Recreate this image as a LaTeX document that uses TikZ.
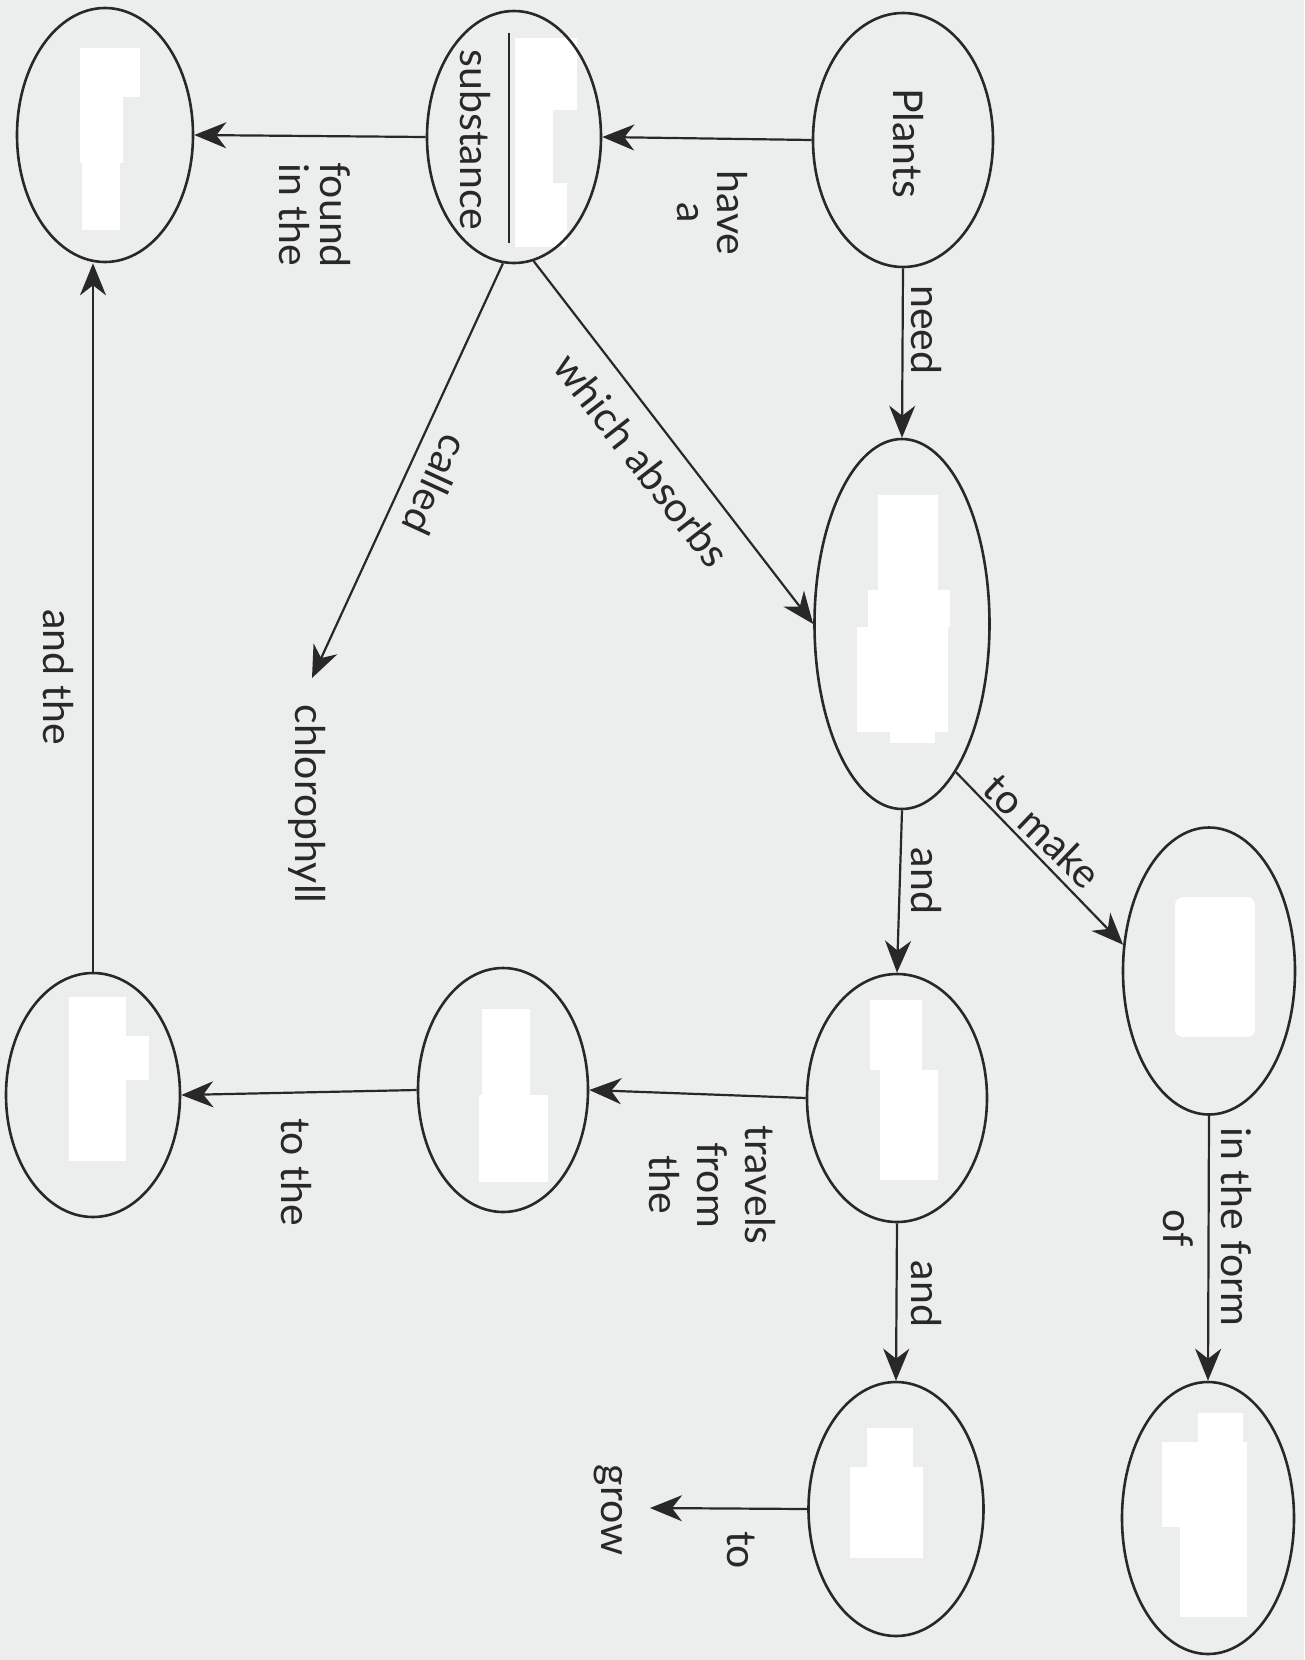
\documentclass[tikz,border=0pt]{standalone}
\usepackage{fontspec}
\setmainfont{Lato}
\usetikzlibrary{shapes.geometric,arrows.meta}
\definecolor{paper}{RGB}{235,238,236}
\definecolor{ink}{RGB}{40,40,40}
\begin{document}
\begin{tikzpicture}[x=1pt,y=-1pt,
  bubble/.style={ellipse, draw=ink, line width=2.6pt, inner sep=0pt},
  link/.style={draw=ink, line width=2.2pt, -{Stealth[length=32pt,width=26pt,inset=10pt]}},
  lbl/.style={font=\fontsize{41}{41}\selectfont, text=ink, inner sep=0pt, align=center}]
\fill[paper] (0,0) rectangle (1304,1660);
\useasboundingbox (0,0) rectangle (1304,1660);

% white patches
\fill[white] (80,48) rectangle (140,97);
\fill[white] (80,97) rectangle (123,163);
\fill[white] (82,163) rectangle (120,230);
\fill[white] (515,38) rectangle (577,110);
\fill[white] (515,110) rectangle (553,183);
\fill[white] (515,183) rectangle (567,247);
\fill[white] (878,495) rectangle (938,600);
\fill[white] (868,590) rectangle (950,627);
\fill[white] (857,627) rectangle (948,732);
\fill[white] (890,728) rectangle (935,743);
\fill[white, rounded corners=8pt] (1175,897) rectangle (1255,1037);
\fill[white] (870,1000) rectangle (922,1070);
\fill[white] (880,1070) rectangle (938,1180);
\fill[white] (482,1009) rectangle (530,1095);
\fill[white] (479,1095) rectangle (548,1182);
\fill[white] (69,997) rectangle (126,1161);
\fill[white] (69,1036) rectangle (149,1080);
\fill[white] (867,1428) rectangle (913,1467);
\fill[white] (850,1467) rectangle (923,1558);
\fill[white] (1198,1413) rectangle (1243,1442);
\fill[white] (1162,1442) rectangle (1247,1527);
\fill[white] (1180,1527) rectangle (1247,1617);

% ellipses
\node[bubble, minimum width=180pt, minimum height=254pt] (plants) at (903,140) {};
\node[bubble, minimum width=174pt, minimum height=252pt] (sub) at (514,137) {};
\node[bubble, minimum width=176pt, minimum height=254pt] (tl) at (105,135) {};
\node[bubble, minimum width=175pt, minimum height=370pt] (mid) at (902,624) {};
\node[bubble, minimum width=172pt, minimum height=287pt] (tomake) at (1209,971) {};
\node[bubble, minimum width=180pt, minimum height=248pt] (and1) at (897,1098) {};
\node[bubble, minimum width=170pt, minimum height=244pt] (travels) at (503,1090) {};
\node[bubble, minimum width=174pt, minimum height=244pt] (bl) at (93,1095) {};
\node[bubble, minimum width=175pt, minimum height=254pt] (and2) at (896,1509) {};
\node[bubble, minimum width=172pt, minimum height=272pt] (br) at (1208,1518) {};

% texts inside ellipses
\node[lbl, rotate=-90] (plantstxt) at (908,143) {Plants};
\node[lbl, rotate=-90] (subtxt) at (475,140) {substance};
\draw[ink, line width=2pt] (509,33) -- (509,243);

% labels
\node[lbl, rotate=-90, font=\fontsize{41}{40}\selectfont] (havelbl) at (712,213) {have\\a};
\node[lbl, rotate=-90] (needlbl) at (926,330) {need};
\node[lbl, rotate=-90] (foundlbl) at (315,215) {found\\in the};
\node[lbl, rotate=-52.1] (abslbl) at (642,460) {which absorbs};
\node[lbl, rotate=-114.7] (calledlbl) at (436,485) {called};
\node[lbl, rotate=-90] (chl) at (307,804) {chlorophyll};
\node[lbl, rotate=-90] (andthelbl) at (58,677) {and the};
\node[lbl, rotate=-43.9] (makelbl) at (1043,831) {to make};
\node[lbl, rotate=-90] (andlbl1) at (926,881) {and};
\node[lbl, rotate=-90] (andlbl2) at (926,1294) {and};
\node[lbl, rotate=-90] (formlbl) at (1236,1227) {in the form};
\node[lbl, rotate=-90] (oflbl) at (1178,1228) {of};
\node[lbl, rotate=-90, font=\fontsize{41}{48}\selectfont] (travlbl) at (712,1185) {travels\\from\\the};
\node[lbl, rotate=-90] (tothelbl) at (296,1172) {to the};
\node[lbl, rotate=-90] (tolbl) at (741,1550) {to};
\node[lbl, rotate=-90] (grow) at (608,1510) {grow};

% connectors
\coordinate (chlend) at (312,678);
\coordinate (growtip) at (650,1508);
\draw[link] (plants.west) -- (sub.east);
\draw[link] (sub.west) -- (tl.east);
\draw[link] (plants.south) -- (mid.north);
\draw[link] (sub.-81) -- (mid.west);
\draw[link] (sub.-95) -- (chlend);
\draw[link] (mid.-70) -- (tomake.163);
\draw[link] (mid.south) -- (and1.north);
\draw[link] (tomake.south) -- (br.north);
\draw[link] (and1.west) -- (travels.east);
\draw[link] (travels.west) -- (bl.east);
\draw[link] (bl.north) -- (bl.north |- tl.south);
\draw[link] (and1.south) -- (and2.north);
\draw[link] (and2.west) -- (growtip);
\end{tikzpicture}
\end{document}
